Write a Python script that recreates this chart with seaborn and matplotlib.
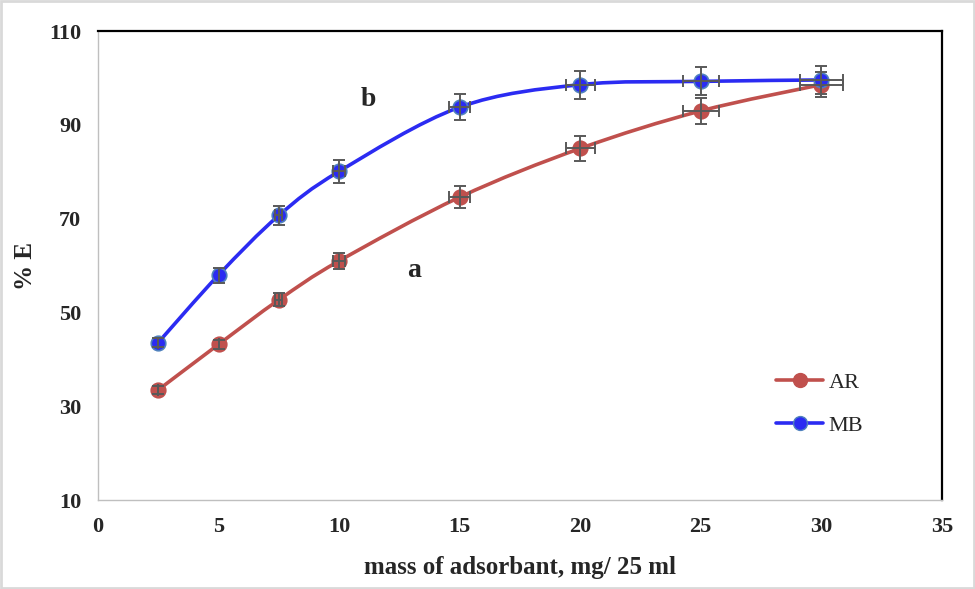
import numpy as np
import matplotlib
matplotlib.use("Agg")
import matplotlib.pyplot as plt
import seaborn as sns
from matplotlib.path import Path
from matplotlib.patches import PathPatch, Rectangle
from matplotlib.lines import Line2D

# data
mass = [2.5, 5, 7.5, 10, 15, 20, 25, 30]
ar_e = [33.5, 43.2, 52.7, 61.0, 74.6, 85.0, 93.0, 98.6]
mb_e = [43.6, 58.0, 70.7, 80.1, 93.8, 98.6, 99.3, 99.6]
ar_yerr = [0.8, 1.0, 1.4, 1.8, 2.3, 2.6, 2.8, 2.6]
mb_yerr = [1.0, 1.6, 2.1, 2.5, 2.8, 3.0, 3.0, 3.0]
ar_xerr = [0.0, 0.0, 0.15, 0.25, 0.45, 0.6, 0.75, 0.9]
mb_xerr = [0.0, 0.0, 0.15, 0.25, 0.45, 0.6, 0.75, 0.9]
x_ticks = [0, 5, 10, 15, 20, 25, 30, 35]
y_ticks = [10, 30, 50, 70, 90, 110]

AR_COLOR = "#c0504d"
MB_COLOR = "#2b2bf2"
ERR_COLOR = "#595959"

sns.set_style("white")
plt.rcParams['font.family'] = ['Liberation Serif', 'DejaVu Serif']


def smooth_path(xs, ys):
    # Excel-like smoothed line: cubic bezier through each point
    pts = np.column_stack([xs, ys]).astype(float)
    n = len(pts)
    verts = [pts[0]]
    codes = [Path.MOVETO]
    for i in range(n - 1):
        p0 = pts[i - 1] if i > 0 else pts[i]
        p1 = pts[i]
        p2 = pts[i + 1]
        p3 = pts[i + 2] if i + 2 < n else pts[i + 1]
        c1 = p1 + (p2 - p0) / 6.0
        c2 = p2 - (p3 - p1) / 6.0
        verts += [c1, c2, p2]
        codes += [Path.CURVE4] * 3
    return Path(verts, codes)


fig = plt.figure(figsize=(9.75, 5.89), dpi=100)
ax = fig.add_axes([0.1005, 0.151, 0.8655, 0.796])

for ys, yerr, xerr, col, edge in [
    (ar_e, ar_yerr, ar_xerr, AR_COLOR, AR_COLOR),
    (mb_e, mb_yerr, mb_xerr, MB_COLOR, "#4f81bd"),
]:
    ax.add_patch(PathPatch(smooth_path(mass, ys), fill=False,
                           edgecolor=col, lw=2.6, zorder=2))
    sns.scatterplot(x=mass, y=ys, ax=ax, color=col, edgecolor=edge,
                    linewidth=1.2, s=110, zorder=3, legend=False)
    ax.errorbar(mass, ys, yerr=yerr, xerr=xerr, fmt="none",
                ecolor=ERR_COLOR, elinewidth=1.4, capsize=4,
                capthick=1.4, zorder=4)

ax.set_xlim(0, 35)
ax.set_ylim(10, 110)
ax.set_xticks(x_ticks)
ax.set_yticks(y_ticks)
ax.tick_params(length=0, labelsize=16)
ax.tick_params(axis="x", pad=12)
ax.tick_params(axis="y", pad=12)
for lab in ax.get_xticklabels() + ax.get_yticklabels():
    lab.set_fontweight("bold")

ax.set_xlabel("mass of adsorbant, mg/ 25 ml", fontsize=18,
              fontweight="bold", labelpad=14)
ax.set_ylabel("% E", fontsize=18, fontweight="bold", labelpad=9)

for side in ["top", "right"]:
    ax.spines[side].set_color("black")
    ax.spines[side].set_linewidth(1.6)
for side in ["left", "bottom"]:
    ax.spines[side].set_color("#bfbfbf")
    ax.spines[side].set_linewidth(1.0)

ax.text(11.2, 95.5, "b", fontsize=20, fontweight="bold", ha="center", va="center")
ax.text(13.1, 59, "a", fontsize=20, fontweight="bold", ha="center", va="center")

handles = [
    Line2D([], [], color=AR_COLOR, lw=2.6, marker="o", markersize=10,
           markerfacecolor=AR_COLOR, markeredgecolor=AR_COLOR),
    Line2D([], [], color=MB_COLOR, lw=2.6, marker="o", markersize=10,
           markerfacecolor=MB_COLOR, markeredgecolor="#4f81bd"),
]
ax.legend(handles, ["AR", "MB"], loc="center left",
          bbox_to_anchor=(0.78, 0.205), frameon=False, fontsize=16,
          handlelength=2.1, handletextpad=0.25, labelspacing=1.0)

fig.patches.append(Rectangle((0.001, 0.001), 0.998, 0.998,
                             transform=fig.transFigure, fill=False,
                             edgecolor="#d9d9d9", lw=2))

fig.savefig("out.png", dpi=100)
